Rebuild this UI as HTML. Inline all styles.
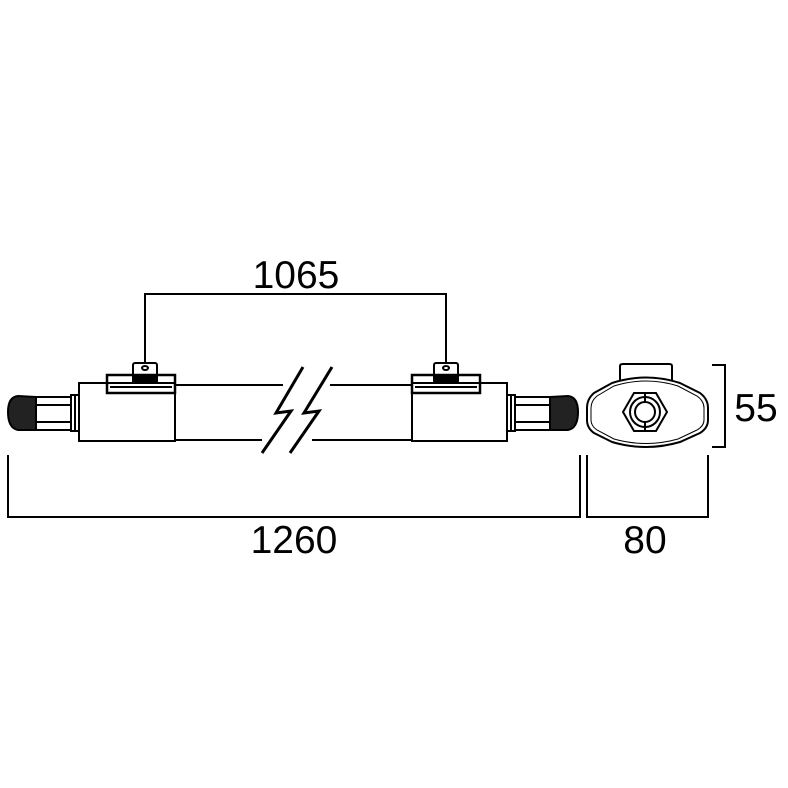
<!DOCTYPE html><html><head><style>body{margin:0;background:#fff}svg{display:block}text{font-family:"Liberation Sans",sans-serif;font-size:39px;fill:#000}</style></head><body>
<svg width="788" height="788" viewBox="0 0 788 788" fill="none" stroke="#000" stroke-width="2">
<polyline points="145,362 145,294 446,294 446,362"/>
<text x="296" y="288" text-anchor="middle" stroke="none">1065</text>
<polyline points="8,455 8,517 580,517 580,455"/>
<text x="294" y="553" text-anchor="middle" stroke="none">1260</text>
<polyline points="587,455 587,517 708,517 708,455"/>
<text x="645" y="553" text-anchor="middle" stroke="none">80</text>
<polyline points="712,365 725,365 725,447 712,447"/>
<text x="756" y="421" text-anchor="middle" stroke="none">55</text>
<line x1="175" y1="385" x2="283" y2="385"/><line x1="330" y1="385" x2="412" y2="385"/>
<line x1="175" y1="440" x2="262" y2="440"/><line x1="312" y1="440" x2="412" y2="440"/>
<g stroke-width="3"><polyline points="303,367 276,413 291,411 262,453"/><polyline points="332,367 304,413 319,411 290,453"/></g>
<rect x="79" y="383" width="96" height="58"/>
<rect x="107" y="375" width="68" height="18" stroke-width="2.5"/><line x1="110" y1="387" x2="172" y2="387"/>
<rect x="133" y="363" width="24" height="17" rx="2"/><rect x="133" y="375" width="24" height="6" fill="#000"/><ellipse cx="145" cy="368" rx="3" ry="2"/>
<rect x="71" y="395" width="8" height="36"/><line x1="75" y1="395" x2="75" y2="431"/>
<rect x="36" y="397" width="35" height="33"/><line x1="36" y1="405" x2="71" y2="405"/><line x1="36" y1="422" x2="71" y2="422"/>
<path d="M36,397 L18,396 Q8,397 8,412 Q8,428 18,430 L36,430 Z" fill="#222"/>
<rect x="412" y="383" width="95" height="58"/>
<rect x="412" y="375" width="68" height="18" stroke-width="2.5"/><line x1="415" y1="387" x2="477" y2="387"/>
<rect x="434" y="363" width="24" height="17" rx="2"/><rect x="434" y="375" width="24" height="6" fill="#000"/><ellipse cx="446" cy="368" rx="3" ry="2"/>
<rect x="507" y="395" width="8" height="36"/><line x1="511" y1="395" x2="511" y2="431"/>
<rect x="515" y="397" width="35" height="33"/><line x1="515" y1="405" x2="550" y2="405"/><line x1="515" y1="422" x2="550" y2="422"/>
<path d="M550,397 L568,396 Q578,397 578,412 Q578,428 568,430 L550,430 Z" fill="#222"/>
<path d="M620,381 L620,366 Q620,364 623,364 L669,364 Q672,364 672,366 L672,381"/>
<path d="M612,383 Q646,372 680,383 L700,393 Q708,399 708,408 L708,420 Q708,428 700,433 L680,442 Q646,452 612,442 L594,433 Q587,428 587,420 L587,408 Q587,399 594,393 Z" stroke-width="2"/>
<path d="M614,386 Q646,376 678,386 L697,396 Q704,401 704,408 L704,420 Q704,426 697,430 L678,439 Q646,448 614,439 L597,430 Q591,426 591,420 L591,408 Q591,401 597,396 Z" stroke-width="1"/>
<polygon points="634,393 656,393 667,412 656,431 634,431 623,412"/>
<circle cx="645" cy="412" r="15"/><circle cx="645" cy="412" r="10" stroke-width="2"/>
<line x1="645" y1="393" x2="645" y2="402"/><line x1="645" y1="422" x2="645" y2="431"/>
</svg></body></html>
